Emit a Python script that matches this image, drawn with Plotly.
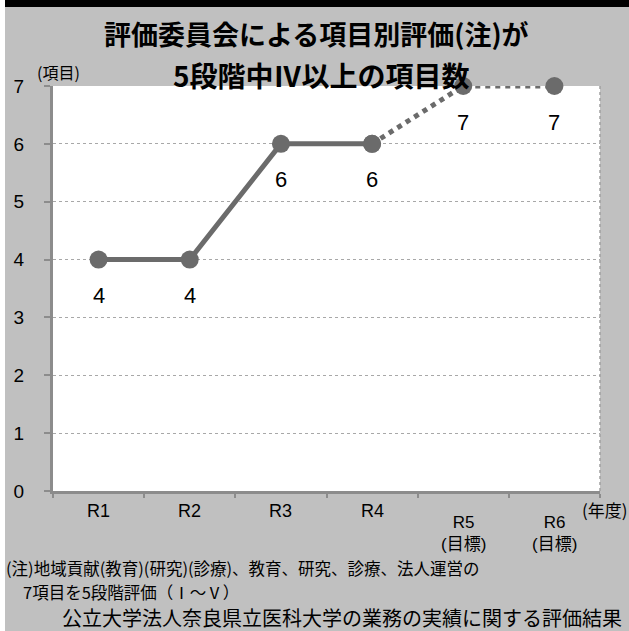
import plotly.graph_objects as go

# ---- data ----
categories = ["R1", "R2", "R3", "R4", "R5", "R6"]
tick_labels = ["R1", "R2", "R3", "R4", "R5<br>(目標)", "R6<br>(目標)"]
values = [4, 4, 6, 6, 7, 7]
actual_n = 4  # R1..R4 actual, R4..R6 target (dotted)
y_ticks = [0, 1, 2, 3, 4, 5, 6, 7]

title_lines = ["評価委員会による項目別評価(注)が", "5段階中Ⅳ以上の項目数"]
note1 = "(注)地域貢献(教育)(研究)(診療)、教育、研究、診療、法人運営の"
note2 = "7項目を5段階評価（Ⅰ～Ⅴ）"
source = "公立大学法人奈良県立医科大学の業務の実績に関する評価結果"

W, H = 629, 631
L, R, T, B = 53, 29, 86, 140
PW, PH = W - L - R, H - T - B

def px(x):
    return (x - L) / PW

def py(y):
    return (H - B - y) / PH

GRAY = "#6b6b6b"
AX = "#8c8c8c"
NUM = "Liberation Sans Narrow, Liberation Sans, Arial, sans-serif"
CJK = "Noto Sans CJK JP, sans-serif"

fig = go.Figure()
fig.add_trace(go.Scatter(
    x=categories[:actual_n], y=values[:actual_n], mode="lines+markers",
    line=dict(color=GRAY, width=5), marker=dict(color=GRAY, size=18),
    cliponaxis=False, hoverinfo="skip", showlegend=False))
fig.add_trace(go.Scatter(
    x=categories[actual_n - 1:], y=values[actual_n - 1:], mode="lines+markers",
    line=dict(color=GRAY, width=5, dash="dot"), marker=dict(color=GRAY, size=18),
    cliponaxis=False, hoverinfo="skip", showlegend=False))

def pann(x, y, text, size, xanchor="center", bold=False, family=CJK):
    return dict(x=px(x), y=py(y), xref="paper", yref="paper",
                text=("<b>" + text + "</b>") if bold else text,
                xanchor=xanchor, yanchor="middle", showarrow=False,
                font=dict(family=family, size=size, color="#000"))

ann = []
# data labels
for c, v in zip(categories, values):
    ann.append(dict(x=c, y=v, xref="x", yref="y", text=str(v), showarrow=False,
                    yanchor="middle", yshift=-36,
                    font=dict(family=NUM, size=22, color="#000")))
# x category labels
for c, t in zip(categories, tick_labels):
    two = "<br>" in t
    ann.append(dict(x=c, y=0, xref="x", yref="y", text=t, showarrow=False,
                    yanchor="top", yshift=-8 if not two else -20,
                    font=dict(family=NUM + ", " + CJK, size=18 if not two else 17, color="#000")))
# titles
ann.append(pann(316, 33, title_lines[0], 27, bold=True))
ann.append(pann(321, 75, title_lines[1], 28, bold=True))
# axis unit labels
ann.append(pann(58, 72, "(項目)", 16))
ann.append(pann(605, 509, "(年度)", 17))
# notes
ann.append(pann(4, 568, note1, 16.5, xanchor="left"))
ann.append(pann(21, 592, note2, 16.5, xanchor="left"))
ann.append(pann(60, 617, source, 20, xanchor="left"))

shapes = [
    # white strip on the left edge
    dict(type="rect", xref="paper", yref="paper", x0=px(0), x1=px(5), y0=py(H), y1=py(0),
         fillcolor="#ffffff", line=dict(width=0), layer="below"),
    # black top band
    dict(type="rect", xref="paper", yref="paper", x0=px(5), x1=px(W), y0=py(7), y1=py(0),
         fillcolor="#000000", line=dict(width=0), layer="below"),
    # dotted right border of plot area
    dict(type="line", xref="paper", yref="paper", x0=1, x1=1, y0=0, y1=1,
         line=dict(color="#a0a0a0", width=1.5, dash="dot"), layer="above"),
]

fig.update_layout(
    width=W, height=H, margin=dict(l=L, r=R, t=T, b=B),
    paper_bgcolor="#c0c0c0", plot_bgcolor="#ffffff",
    annotations=ann, shapes=shapes, showlegend=False,
    xaxis=dict(type="category", categoryorder="array", categoryarray=categories,
               range=[-0.5, len(categories) - 0.5], showticklabels=False,
               showline=True, linecolor=AX, linewidth=3, showgrid=False,
               ticks="outside", tickson="boundaries", ticklen=4, tickcolor=AX, tickwidth=1.5,
               zeroline=False, fixedrange=True),
    yaxis=dict(range=[0, 7], tickvals=y_ticks, ticktext=[str(v) for v in y_ticks],
               showline=True, linecolor=AX, linewidth=3,
               showgrid=True, gridcolor="#a8a8a8", gridwidth=1.2, griddash="dot",
               ticks="outside", ticklen=6, tickcolor=AX, tickwidth=1.5,
               ticklabelstandoff=16,
               tickfont=dict(family=NUM, size=19, color="#000"),
               zeroline=False, fixedrange=True),
)

fig.write_html("out.html", config={"displayModeBar": False},
               post_script="document.body.style.margin='0';document.body.style.overflow='hidden';")
